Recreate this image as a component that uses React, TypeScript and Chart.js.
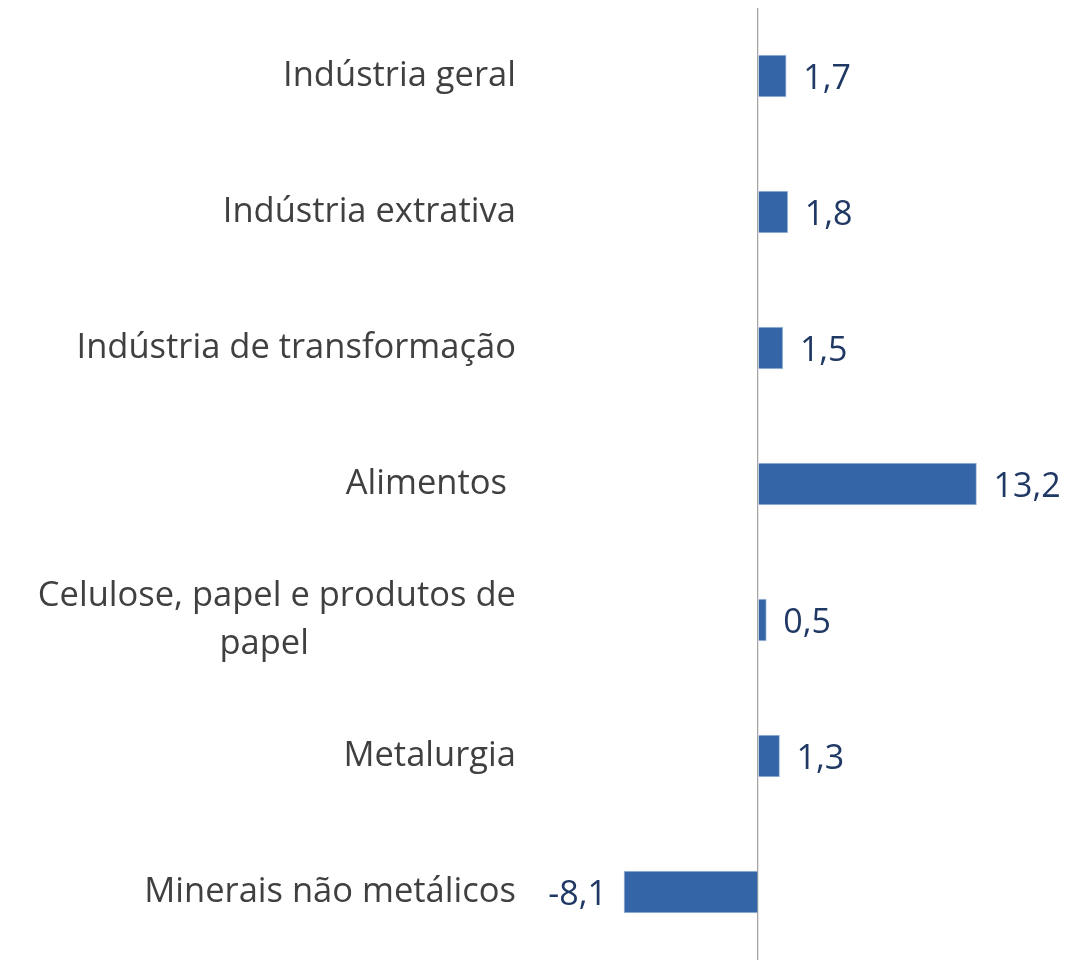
import React, { useEffect, useRef } from "react";
import { Chart, registerables } from "chart.js";

Chart.register(...registerables);

const categories: (string | string[])[] = [
  "Indústria geral",
  "Indústria extrativa",
  "Indústria de transformação",
  "Alimentos ",
  ["Celulose, papel e produtos de", "papel" + "\u2002".repeat(12)],
  "Metalurgia",
  "Minerais não metálicos",
];
const values: number[] = [1.7, 1.8, 1.5, 13.2, 0.5, 1.3, -8.1];
const valueLabels: string[] = ["1,7", "1,8", "1,5", "13,2", "0,5", "1,3", "-8,1"];

const FONT = "'Open Sans', 'Noto Sans', sans-serif";

const valueLabelPlugin = {
  id: "valueLabels",
  afterDatasetsDraw(chart: any) {
    const ctx = chart.ctx;
    const meta = chart.getDatasetMeta(0);
    ctx.save();
    ctx.font = `34px ${FONT}`;
    ctx.fillStyle = "#203864";
    ctx.textBaseline = "middle";
    meta.data.forEach((bar: any, i: number) => {
      const v = values[i];
      if (v >= 0) {
        ctx.textAlign = "left";
        ctx.fillText(valueLabels[i], bar.x + 17, bar.y + 3);
      } else {
        ctx.textAlign = "right";
        ctx.fillText(valueLabels[i], bar.x - 17, bar.y + 3);
      }
    });
    ctx.restore();
  },
};

export default function App() {
  const ref = useRef<HTMLCanvasElement>(null);
  useEffect(() => {
    document.body.style.margin = "0";
    const chart = new Chart(ref.current!, {
      type: "bar",
      data: {
        labels: categories,
        datasets: [
          {
            data: values,
            backgroundColor: "#3465A6",
            borderColor: "#A9C0DE",
            borderWidth: 1,
            barThickness: 42,
          },
        ],
      },
      options: {
        indexAxis: "y",
        animation: false,
        responsive: false,
        maintainAspectRatio: false,
        layout: { autoPadding: false, padding: { top: 8, bottom: -3, left: 0, right: 18.5 } },
        plugins: { legend: { display: false }, tooltip: { enabled: false } },
        scales: {
          x: {
            min: -13,
            max: 19,
            ticks: { display: false, stepSize: 1 },
            border: { display: false },
            grid: {
              drawTicks: false,
              lineWidth: 1.3,
              color: (c: any) => (c.tick && c.tick.value === 0 ? "#A6A6A6" : "rgba(0,0,0,0)"),
            },
            afterFit: (scale: any) => {
              scale.height = 0;
              scale.paddingLeft = 0;
              scale.paddingRight = 0;
            },
          },
          y: {
            afterFit: (scale: any) => {
              scale.width = 542.9;
              scale.paddingTop = 0;
              scale.paddingBottom = 0;
            },
            border: { display: false },
            grid: { display: false, drawTicks: false },
            ticks: {
              padding: 27,
              color: "#404040",
              font: { family: FONT, size: 34.5, lineHeight: 1.4 },
            },
          },
        },
      },
      plugins: [valueLabelPlugin],
    });
    return () => chart.destroy();
  }, []);
  return (
    <div style={{ width: 1091, height: 960, overflow: "hidden" }}>
      <canvas ref={ref} width={1091} height={960} />
    </div>
  );
}
